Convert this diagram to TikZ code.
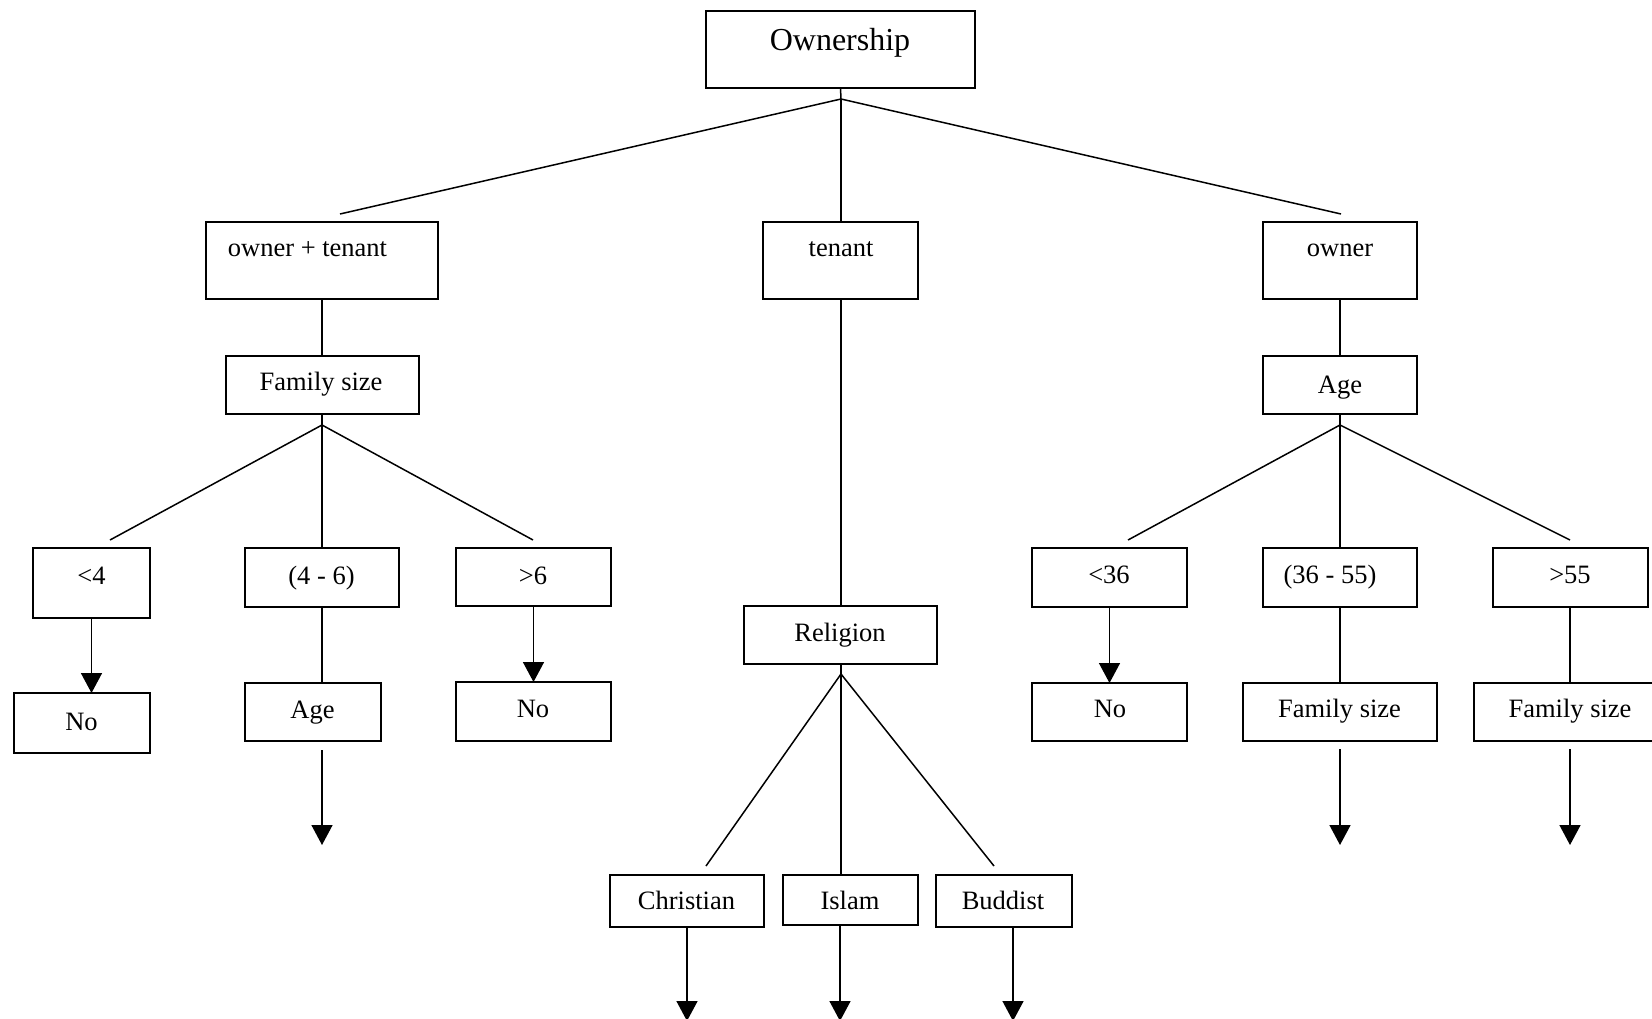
\documentclass[tikz,border=0pt]{standalone}
\usepackage{fontspec}
\setmainfont{Liberation Serif}
\usetikzlibrary{arrows.meta}
\begin{document}
\begin{tikzpicture}[x=1pt,y=-1pt,
  box/.style={draw, line width=1.6pt, inner sep=0pt, outer sep=0pt},
  lbl/.style={anchor=base, inner sep=0pt, font=\fontsize{26.5}{30}\selectfont},
  conn/.style={line width=1.5pt},
  arr/.style={line width=1.5pt, -{Triangle[length=20pt,width=21pt]}}]
\useasboundingbox (0,0) rectangle (1652,1018);
\begin{scope}
\clip (0,0) rectangle (1652,1018);

% ---------- boxes ----------
\node[box, minimum width=269pt, minimum height=77pt] (own)  at (840.5,49.5) {};
\node[box, minimum width=232pt, minimum height=77pt] (ot)   at (322,260.5) {};
\node[box, minimum width=155pt, minimum height=77pt] (ten)  at (840.5,260.5) {};
\node[box, minimum width=154pt, minimum height=77pt] (ow)   at (1340,260.5) {};
\node[box, minimum width=193pt, minimum height=58pt] (fam1) at (322.5,385) {};
\node[box, minimum width=154pt, minimum height=58pt] (age2) at (1340,385) {};
\node[box, minimum width=117pt, minimum height=70pt] (lt4)  at (91.5,583) {};
\node[box, minimum width=154pt, minimum height=59pt] (r46)  at (322,577.5) {};
\node[box, minimum width=155pt, minimum height=58pt] (gt6)  at (533.5,577) {};
\node[box, minimum width=136pt, minimum height=60pt] (no1)  at (82,723) {};
\node[box, minimum width=136pt, minimum height=58pt] (age1) at (313,712) {};
\node[box, minimum width=155pt, minimum height=59pt] (no2)  at (533.5,711.5) {};
\node[box, minimum width=193pt, minimum height=58pt] (rel)  at (840.5,635) {};
\node[box, minimum width=154pt, minimum height=52pt] (chr)  at (687,901) {};
\node[box, minimum width=135pt, minimum height=50pt] (isl)  at (850.5,900) {};
\node[box, minimum width=136pt, minimum height=52pt] (bud)  at (1004,901) {};
\node[box, minimum width=155pt, minimum height=59pt] (lt36) at (1109.5,577.5) {};
\node[box, minimum width=154pt, minimum height=59pt] (r3655) at (1340,577.5) {};
\node[box, minimum width=155pt, minimum height=59pt] (gt55) at (1570.5,577.5) {};
\node[box, minimum width=155pt, minimum height=58pt] (no3)  at (1109.5,712) {};
\node[box, minimum width=194pt, minimum height=58pt] (fam2) at (1340,712) {};
\node[box, minimum width=194pt, minimum height=58pt] (fam3) at (1571,712) {};

% ---------- texts ----------
\node[lbl, font=\fontsize{32}{36}\selectfont] (t-own) at (840,50) {Ownership};
\node[lbl] (t-ot)   at (307.5,256) {owner + tenant};
\node[lbl] (t-ten)  at (841,256) {tenant};
\node[lbl] (t-ow)   at (1340,256) {owner};
\node[lbl] (t-fam1) at (321,390) {Family size};
\node[lbl] (t-age2) at (1340,393) {Age};
\node[lbl] (t-lt4)  at (91.5,584) {<4};
\node[lbl] (t-r46)  at (321.5,584) {(4 - 6)};
\node[lbl] (t-gt6)  at (533,584) {>6};
\node[lbl] (t-no1)  at (81.5,730) {No};
\node[lbl] (t-age1) at (312.5,718) {Age};
\node[lbl] (t-no2)  at (533,717) {No};
\node[lbl] (t-rel)  at (840,641) {Religion};
\node[lbl] (t-chr)  at (686.5,909) {Christian};
\node[lbl] (t-isl)  at (850,909) {Islam};
\node[lbl] (t-bud)  at (1003,909) {Buddist};
\node[lbl] (t-lt36) at (1109,583) {<36};
\node[lbl] (t-r3655) at (1330,583) {(36 - 55)};
\node[lbl] (t-gt55) at (1570,583) {>55};
\node[lbl] (t-no3)  at (1110,717) {No};
\node[lbl] (t-fam2) at (1339.5,717) {Family size};
\node[lbl] (t-fam3) at (1570,717) {Family size};

% ---------- junctions and free ends ----------
\coordinate (j0) at (841,99);
\coordinate (e-ot) at (340,214);
\coordinate (e-ow) at (1341,214);
\coordinate (j1) at (322,425);
\coordinate (e-lt4) at (110,540);
\coordinate (e-gt6) at (533,540);
\coordinate (j2) at (841,674);
\coordinate (e-chr) at (706,866);
\coordinate (e-bud) at (994,866);
\coordinate (j3) at (1340,425);
\coordinate (e-lt36) at (1128,540);
\coordinate (e-gt55) at (1570,540);
\coordinate (a1s) at (322,750);
\coordinate (a1e) at (322,845);
\coordinate (f2s) at (1340,749);
\coordinate (f2e) at (1340,845);
\coordinate (f3s) at (1570,749);
\coordinate (f3e) at (1570,845);
\coordinate (c-chr) at (687,1021);
\coordinate (s-isl) at (840,925);
\coordinate (c-isl) at (840,1021);
\coordinate (s-bud) at (1013,927);
\coordinate (c-bud) at (1013,1021);

% ---------- connectors ----------
\draw[conn] (own.south) -- (j0);
\draw[conn] (j0) -- (e-ot);
\draw[conn] (j0) -- (e-ow);
\draw[conn] (j0) -- (j0 |- ten.north);

\draw[conn] (ot.south) -- (fam1.north -| ot.south);
\draw[conn] (fam1.south -| j1) -- (j1);
\draw[conn] (j1) -- (e-lt4);
\draw[conn] (j1) -- (e-gt6);
\draw[conn] (j1) -- (r46.north);
\draw[arr] (lt4.south) -- (lt4.south |- no1.north);
\draw[conn] (r46.south) -- (r46.south |- age1.north);
\draw[arr] (a1s) -- (a1e);
\draw[arr] (gt6.south) -- (no2.north);

\draw[conn] (j0 |- ten.south) -- (j0 |- rel.north);
\draw[conn] (j2 |- rel.south) -- (j2);
\draw[conn] (j2) -- (e-chr);
\draw[conn] (j2) -- (e-bud);
\draw[conn] (j2) -- (j2 |- isl.north);
\draw[arr] (chr.south) -- (c-chr);
\draw[arr] (s-isl) -- (c-isl);
\draw[arr] (s-bud) -- (c-bud);

\draw[conn] (ow.south) -- (age2.north);
\draw[conn] (age2.south) -- (j3);
\draw[conn] (j3) -- (e-lt36);
\draw[conn] (j3) -- (e-gt55);
\draw[conn] (j3) -- (r3655.north);
\draw[arr] (lt36.south) -- (no3.north);
\draw[conn] (r3655.south) -- (fam2.north);
\draw[arr] (f2s) -- (f2e);
\draw[conn] (gt55.south -| e-gt55) -- (e-gt55 |- fam3.north);
\draw[arr] (f3s) -- (f3e);
\end{scope}
\end{tikzpicture}
\end{document}
